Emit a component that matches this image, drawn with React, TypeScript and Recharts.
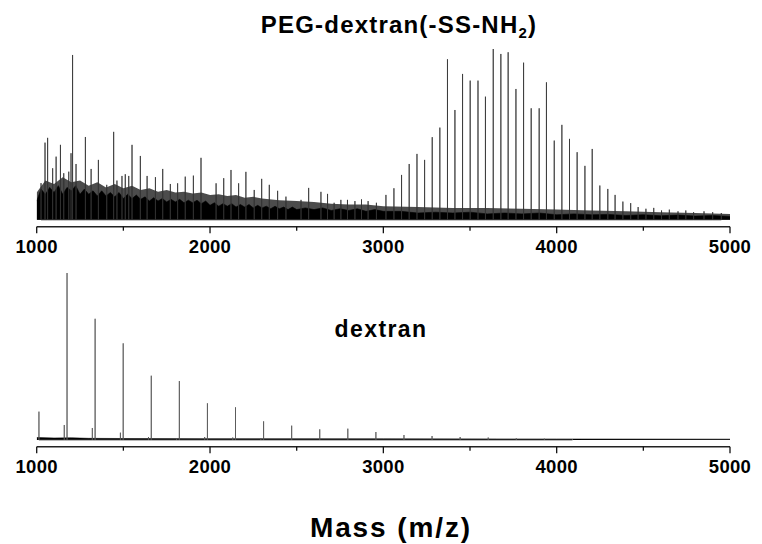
import { Area, ComposedChart, Line, XAxis, YAxis } from "recharts";

// PEG-dextran(-SS-NH2): m/z of the visible peaks and relative intensity (%)
const TOP_PEAK_MZ = [
  1025, 1048, 1063, 1092, 1112, 1137, 1156, 1185, 1198, 1207, 1227, 1281, 1314,
  1356, 1404, 1444, 1463, 1492, 1511, 1531, 1550, 1598, 1637, 1685, 1727, 1771,
  1813, 1857, 1904, 1948, 2035, 2079, 2121, 2165, 2207, 2255, 2298, 2342, 2390,
  2438, 2525, 2569, 2640, 2678, 2716, 2755, 2793, 2836, 2874, 2912, 2960, 3015,
  3061, 3105, 3149, 3194, 3238, 3282, 3326, 3370, 3413, 3457, 3501, 3546, 3589,
  3634, 3678, 3720, 3765, 3809, 3853, 3899, 3941, 3986, 4030, 4074, 4118, 4163,
  4205, 4249, 4295, 4337, 4382, 4427, 4470, 4515, 4560, 4605, 4650, 4700, 4745,
  4790, 4850, 4900, 4950,
];
const TOP_PEAK_INT = [
  21.5, 45.2, 48, 30.2, 37, 43.9, 27.3, 28.2, 39, 96.5, 32.7, 48.5, 29.8,
  35.1, 20.5, 51.5, 23, 25.7, 26.7, 25.7, 43.9, 37.4, 25.7, 25, 29.8, 21,
  21.4, 25.3, 25.9, 36.3, 21.4, 24.4, 29.2, 21.4, 28.1, 17.5, 24, 20.5, 17,
  13.6, 11.7, 18.7, 16.4, 15.2, 10, 11.7, 11.7, 11, 12, 11, 10, 14.6,
  18.5, 26.3, 32.7, 38.6, 35.1, 48.4, 54, 94, 64.3, 85.4, 81.5, 81.5, 72.1,
  100, 97.1, 98.1, 76.6, 92, 65.3, 65.3, 80.5, 46.4, 55.6, 47.4, 39.6, 31.6,
  41.5, 20.1, 18.1, 14.6, 10.7, 9.8, 7.5, 6.5, 7, 5.5, 6, 5, 5.5,
  4.5, 5, 4.5, 4,
];

// dense noise floor of the top spectrum: solid black core (jagged top edge)
const CORE_MZ = [
  1000, 1025, 1050, 1075, 1100, 1125, 1150, 1175, 1200, 1225, 1250, 1275, 1300,
  1325, 1350, 1375, 1400, 1425, 1450, 1475, 1500, 1525, 1550, 1575, 1600, 1625,
  1650, 1675, 1700, 1725, 1750, 1775, 1800, 1825, 1850, 1875, 1900, 1925, 1950,
  1975, 2000, 2025, 2050, 2075, 2100, 2125, 2150, 2175, 2200, 2225, 2250, 2275,
  2300, 2325, 2350, 2375, 2400, 2425, 2450, 2475, 2500, 2550, 2600, 2650, 2700,
  2750, 2800, 2850, 2900, 2950, 3000, 3100, 3200, 3300, 3400, 3500, 3600, 3700,
  3800, 3900, 4000, 4100, 4200, 4300, 4400, 4500, 4600, 4700, 4800, 4900, 5000,
];
const CORE_INT = [
  11, 18, 15, 19, 16, 20, 15, 19, 17, 20, 15, 18, 15, 17, 14, 17, 14, 16, 13.5,
  16, 12.5, 15, 12.5, 14.5, 12, 13.5, 11, 13, 11, 12.5, 10.5, 12, 10.5, 12, 10,
  11.5, 10, 11.5, 9.5, 11, 8.5, 10, 8, 9.5, 8, 9.5, 7.5, 9, 7.5, 9, 7, 8.5, 7,
  8, 6.5, 8, 6.5, 7.5, 6, 7.5, 6, 7, 6, 7, 5.5, 6.5, 5.5, 6.5, 5, 6, 5, 5, 4,
  4.5, 4, 4.5, 3.5, 4, 3.5, 4, 3, 3.5, 3, 3.2, 2.6, 3, 2.4, 2.8, 2.2, 2.5, 2,
];

// grassy layer of unresolved small peaks above the core
const GRASS_MZ = [
  1000, 1050, 1100, 1150, 1200, 1250, 1300, 1350, 1400, 1450, 1500, 1550, 1600,
  1650, 1700, 1750, 1800, 1850, 1900, 1950, 2000, 2050, 2100, 2150, 2200, 2250,
  2300, 2400, 2500, 2600, 2700, 2800, 2900, 3000, 3200, 3400, 3600, 3800, 4000,
  4200, 4400, 4600, 4800, 5000,
];
const GRASS_INT = [
  16, 23, 21, 25, 22, 23, 20, 22, 19, 21, 18.5, 20, 17.5, 18.5, 16.5, 17.5, 16,
  16.5, 15.5, 16, 14.5, 15, 14, 14.5, 13, 13.5, 12.5, 11.5, 11, 10.5, 9.5, 9, 9,
  8, 7.5, 7, 7, 6.5, 6, 5.5, 5, 4.5, 4, 3.5,
];

// dextran: sodiated oligomer series plus the small side peaks
const DEX_PEAK_MZ = [
  1013, 1159, 1175, 1321, 1337, 1483, 1499, 1645, 1661, 1807, 1823, 1969, 1985,
  2131, 2147, 2293, 2309, 2471, 2633, 2795, 2957, 3119, 3281, 3443, 3605, 3767,
  3929, 4091,
];
const DEX_PEAK_INT = [
  17, 9, 100, 7.2, 72.6, 4.4, 57.9, 1.8, 38.5, 1.2, 35.3, 1.8, 22,
  1.5, 19.6, 1, 11.2, 8.6, 6.4, 6.8, 4.8, 3, 2.4, 1.8, 1.5, 1,
  0.8, 0.6,
];
const DEX_NOISE_MZ = [1000, 1100, 1200, 1300, 1500, 2000, 3000, 4000, 5000];
const DEX_NOISE = [1.5, 1.2, 1.3, 1, 0.9, 0.8, 0.7, 0.6, 0.5];

const MASS_TICKS = [1000, 1500, 2000, 2500, 3000, 3500, 4000, 4500, 5000];

const FONT = "'Liberation Sans', Arial, sans-serif";

function sticks(mz: number[], vals: number[]) {
  return mz.flatMap((m, i) => [
    { mz: m, y: 0 },
    { mz: m, y: vals[i] },
    { mz: m, y: 0 },
  ]);
}

function envelope(mz: number[], vals: number[]) {
  return mz.map((m, i) => ({ mz: m, y: vals[i] }));
}

function MassTick(props: any) {
  const { x, y, payload } = props;
  const major = payload.value % 1000 === 0;
  return (
    <g>
      <line
        x1={x}
        x2={x}
        y1={y}
        y2={y + (major ? 6.5 : 4)}
        stroke="#111"
        strokeWidth={1.3}
      />
      {major && (
        <text
          x={x}
          y={y + 26.5}
          textAnchor="middle"
          fontSize={18.5}
          fontWeight="bold"
          fontFamily={FONT}
          letterSpacing={0.3}
          fill="#000"
        >
          {payload.value}
        </text>
      )}
    </g>
  );
}

function Spectrum({
  top,
  peaks,
  core,
  grass,
  peakColor,
}: {
  top: number;
  peaks: { mz: number; y: number }[];
  core: { mz: number; y: number }[];
  grass?: { mz: number; y: number }[];
  peakColor: string;
}) {
  return (
    <ComposedChart
      width={762}
      height={262}
      margin={{ top, right: 32, bottom: 0, left: 36.7 }}
    >
      <XAxis
        dataKey="mz"
        type="number"
        domain={[1000, 5000]}
        ticks={MASS_TICKS}
        interval={0}
        height={35.3}
        tickSize={0}
        tickMargin={0}
        tickLine={false}
        tick={<MassTick />}
        axisLine={{ stroke: "#222", strokeWidth: 1.4 }}
        allowDataOverflow
      />
      <YAxis hide type="number" domain={[-4, 100]} allowDataOverflow />
      {grass && (
        <Area
          data={grass}
          dataKey="y"
          type="linear"
          baseValue={0}
          stroke="none"
          fill="#000"
          fillOpacity={0.7}
          isAnimationActive={false}
        />
      )}
      <Area
        data={core}
        dataKey="y"
        type="linear"
        baseValue={0}
        stroke="#000"
        strokeWidth={0.6}
        fill="#000"
        fillOpacity={1}
        isAnimationActive={false}
      />
      <Line
        data={peaks}
        dataKey="y"
        type="linear"
        stroke={peakColor}
        strokeWidth={0.8}
        dot={false}
        activeDot={false}
        isAnimationActive={false}
      />
    </ComposedChart>
  );
}

export default function App() {
  return (
    <div
      style={{
        position: "absolute",
        left: 0,
        top: 0,
        width: 762,
        height: 544,
        background: "#fff",
        fontFamily: FONT,
      }}
    >
      <div style={{ position: "absolute", left: 0, top: 0 }}>
        <Spectrum
          top={49}
          peaks={sticks(TOP_PEAK_MZ, TOP_PEAK_INT)}
          core={envelope(CORE_MZ, CORE_INT)}
          grass={envelope(GRASS_MZ, GRASS_INT)}
          peakColor="#333"
        />
      </div>
      <div style={{ position: "absolute", left: 0, top: 220 }}>
        <Spectrum
          top={53}
          peaks={sticks(DEX_PEAK_MZ, DEX_PEAK_INT)}
          core={envelope(DEX_NOISE_MZ, DEX_NOISE)}
          peakColor="#555"
        />
      </div>
      <svg
        width={762}
        height={544}
        style={{ position: "absolute", left: 0, top: 0, pointerEvents: "none" }}
      >
        <text
          x={399}
          y={32.7}
          textAnchor="middle"
          fontSize={24}
          fontWeight="bold"
          fontFamily={FONT}
          letterSpacing={1.2}
        >
          PEG-dextran(-SS-NH
          <tspan fontSize={15} dy={5}>
            2
          </tspan>
          <tspan dy={-5}>)</tspan>
        </text>
        <text
          x={381}
          y={337.3}
          textAnchor="middle"
          fontSize={23}
          fontWeight="bold"
          fontFamily={FONT}
          letterSpacing={1.4}
        >
          dextran
        </text>
        <text
          x={391}
          y={536.5}
          textAnchor="middle"
          fontSize={28}
          fontWeight="bold"
          fontFamily={FONT}
          letterSpacing={1.9}
        >
          Mass (m/z)
        </text>
      </svg>
    </div>
  );
}
